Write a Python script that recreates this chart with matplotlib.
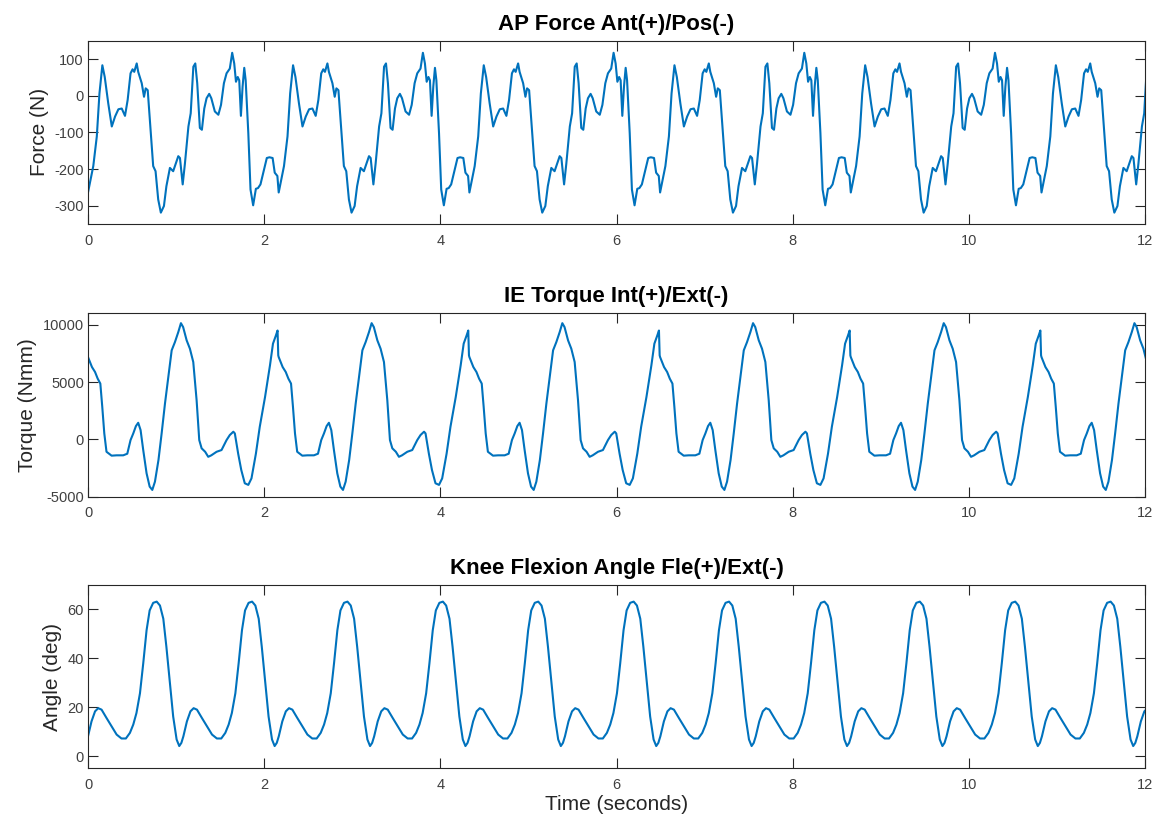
import matplotlib
matplotlib.use("Agg")

import matplotlib.pyplot as plt
import numpy as np

plt.rcParams["font.family"] = ["Liberation Sans", "DejaVu Sans"]
plt.rcParams["axes.unicode_minus"] = False

LINE_COLOR = "#0072BD"
TEXT_COLOR = "#262626"
TICK_LABEL_COLOR = "#404040"

T_END = 12.0

# AP force, one gait period (two sub-cycles): (seconds, N)
force_period = 2.165
force_t = [0.0, 0.06, 0.10, 0.13, 0.163, 0.19, 0.23, 0.27, 0.307, 0.345, 0.383,
           0.42, 0.45, 0.483, 0.506, 0.525, 0.553, 0.57, 0.61, 0.636, 0.655,
           0.678, 0.71, 0.74, 0.767, 0.797, 0.827, 0.862, 0.89, 0.93, 0.967,
           0.99, 1.025, 1.044, 1.075, 1.10, 1.14, 1.166, 1.196, 1.218, 1.24,
           1.27, 1.293, 1.32, 1.346, 1.376, 1.40, 1.44, 1.48, 1.51, 1.543,
           1.573, 1.61, 1.637, 1.66, 1.68, 1.70, 1.717, 1.736, 1.755, 1.774,
           1.79, 1.82, 1.845, 1.875, 1.906, 1.93, 1.958, 1.99, 2.03, 2.06,
           2.096, 2.12, 2.15]
force_n = [-264, -192, -111, 6, 83, 51, -21, -84, -57, -37, -35,
           -55, -12, 61, 72, 65, 88, 65, 34, -3, 20,
           15, -93, -192, -206, -283, -319, -301, -247, -197, -206,
           -190, -165, -170, -242, -186, -84, -48, 79, 88, 34,
           -88, -93, -35, -7, 5, -7, -43, -52, -25, 34,
           61, 74, 117, 88, 38, 51, 42, -55, 25, 76,
           42, -102, -256, -299, -254, -252, -242, -210, -170, -168,
           -170, -210, -219]

# IE torque, one gait period: (seconds, Nmm)
torque_period = 2.165
torque_t = [0.0, 0.045, 0.08, 0.11, 0.14, 0.162, 0.185, 0.21, 0.268, 0.325,
            0.40, 0.446, 0.483, 0.514, 0.544, 0.57, 0.597, 0.627, 0.665, 0.70,
            0.73, 0.76, 0.80, 0.836, 0.874, 0.912, 0.95, 0.987, 1.025, 1.055,
            1.08, 1.12, 1.157, 1.195, 1.233, 1.263, 1.29, 1.33, 1.365, 1.40,
            1.46, 1.516, 1.573, 1.61, 1.65, 1.667, 1.705, 1.74, 1.78, 1.82,
            1.856, 1.906, 1.95, 2.01, 2.066, 2.10, 2.133, 2.152, 2.16]
torque_nmm = [7180, 6310, 5880, 5300, 4870, 2835, 520, -1080, -1420, -1390,
              -1390, -1250, -60, 520, 1160, 1450, 810, -930, -2960, -4120,
              -4410, -3690, -1800, 520, 3130, 5450, 7770, 8490, 9360, 10140,
              9800, 8640, 7910, 6750, 3420, -60, -780, -1080, -1520, -1390,
              -1080, -930, -60, 380, 670, 520, -1250, -2670, -3830, -3970,
              -3400, -1250, 1100, 3700, 6460, 8350, 9060, 9500, 7330]

# knee flexion angle, one stride: (seconds, deg)
angle_period = 1.083
angle_t = [0.0, 0.04, 0.08, 0.116, 0.154, 0.21, 0.268, 0.325, 0.38, 0.43,
           0.476, 0.514, 0.55, 0.59, 0.627, 0.665, 0.70, 0.74, 0.78, 0.817,
           0.855, 0.89, 0.93, 0.967, 1.006, 1.036, 1.06]
angle_deg = [8.1, 14.2, 18.3, 19.6, 19.0, 15.6, 12.2, 8.8, 7.2, 7.2,
             9.5, 12.9, 17.6, 25.7, 37.9, 51.5, 59.6, 62.7, 63.2, 61.6,
             56.2, 44.7, 29.8, 16.2, 6.8, 4.1, 5.4]

panels = [
    ("AP Force Ant(+)/Pos(-)", "Force (N)", force_t, force_n, force_period,
     (-350, 150), [-300, -200, -100, 0, 100]),
    ("IE Torque Int(+)/Ext(-)", "Torque (Nmm)", torque_t, torque_nmm, torque_period,
     (-5000, 11000), [-5000, 0, 5000, 10000]),
    ("Knee Flexion Angle Fle(+)/Ext(-)", "Angle (deg)", angle_t, angle_deg, angle_period,
     (-5, 70), [0, 20, 40, 60]),
]


def repeat_cycle(t, y, period, t_end):
    """Lay the measured cycle end to end until the record length is covered."""
    ts, ys = [], []
    k = 0
    while k * period <= t_end:
        ts.append(np.asarray(t) + k * period)
        ys.append(np.asarray(y, dtype=float))
        k += 1
    return np.concatenate(ts), np.concatenate(ys)


fig = plt.figure(figsize=(11.55, 8.26), dpi=100)

W, H = 1155, 826
left, right = 88, 1145
tops = [40.7, 313.3, 585.0]
bottoms = [224.0, 496.7, 768.3]

for i, (title, ylabel, t, y, period, ylim, yticks) in enumerate(panels):
    ax = fig.add_axes([left / W, 1 - bottoms[i] / H,
                       (right - left) / W, (bottoms[i] - tops[i]) / H])
    x_arr, y_arr = repeat_cycle(t, y, period, T_END)
    ax.plot(x_arr, y_arr, color=LINE_COLOR, linewidth=1.5)

    ax.set_xlim(0, T_END)
    ax.set_ylim(*ylim)
    ax.set_xticks(np.arange(0, 13, 2))
    ax.set_yticks(yticks)
    ax.set_title(title, fontsize=16, fontweight="bold", color="black", pad=8)
    ax.set_ylabel(ylabel, fontsize=15, color=TEXT_COLOR, labelpad=4)
    if i == 2:
        ax.set_xlabel("Time (seconds)", fontsize=15, color=TEXT_COLOR, labelpad=2)

    ax.tick_params(direction="in", length=7, width=0.8, colors=TEXT_COLOR,
                   labelcolor=TICK_LABEL_COLOR, labelsize=10.5,
                   top=True, right=True)
    ax.tick_params(axis="y", pad=3)
    ax.tick_params(axis="x", pad=7)
    for spine in ax.spines.values():
        spine.set_color(TEXT_COLOR)
        spine.set_linewidth(0.8)

fig.savefig("out.png", dpi=100)
plt.close(fig)
